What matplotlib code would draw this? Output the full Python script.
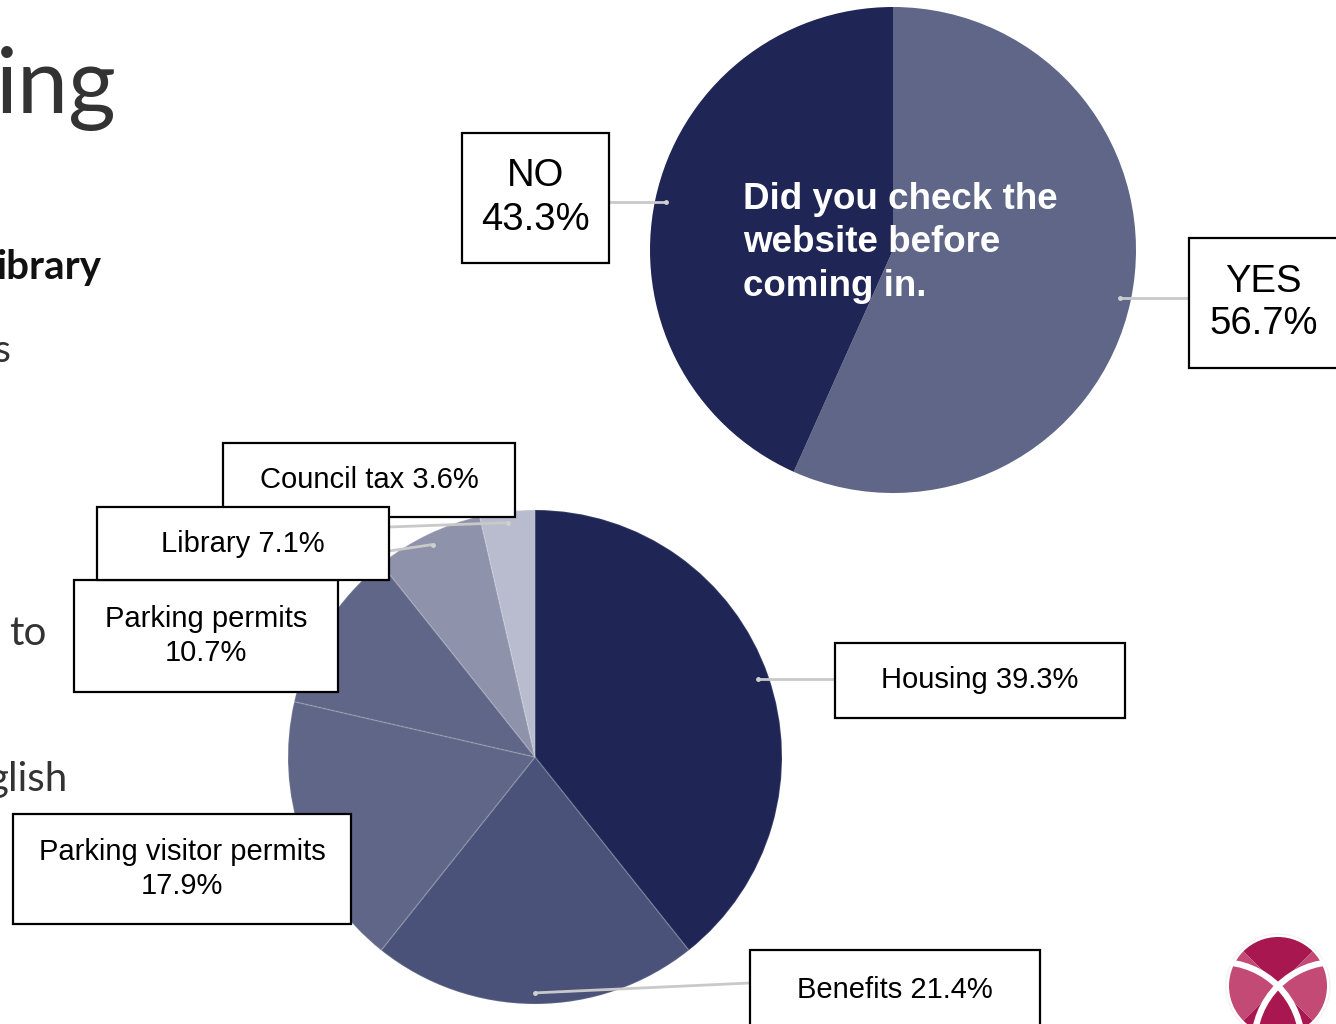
import matplotlib
matplotlib.use("Agg")
import matplotlib.pyplot as plt
import numpy as np
from matplotlib.patches import Rectangle, Circle, Wedge, Arc

# ---------------- data ----------------
q_labels = ["YES", "NO"]
q_values = [56.7, 43.3]
q_colors = ["#5f6687", "#1f2555"]
q_title = "Did you check the\nwebsite before\ncoming in."

s_labels = ["Housing", "Benefits", "Parking visitor permits", "Parking permits", "Library", "Council tax"]
s_values = [39.3, 21.4, 17.9, 10.7, 7.1, 3.6]
s_colors = ["#1f2555", "#4a5279", "#5f6687", "#5f6687", "#8e92aa", "#b9bcce"]
s_label_text = ["Housing 39.3%", "Benefits 21.4%", "Parking visitor permits\n17.9%",
                "Parking permits\n10.7%", "Library 7.1%", "Council tax 3.6%"]
q_label_text = ["YES\n56.7%", "NO\n43.3%"]

W, H = 1336, 1024
def Y(y):
    return H - y

fig = plt.figure(figsize=(W / 100, H / 100), dpi=100)
fig.patch.set_facecolor("white")
ax = fig.add_axes([0, 0, 1, 1])

# ---------------- background slide fragments ----------------
lato = ["Lato", "DejaVu Sans"]
ax.text(-4, Y(113), "ing", fontsize=66, color="#333333", family=lato, ha="left", va="baseline")
ax.text(-4, Y(279), "ibrary", fontsize=29, color="#111111", family=lato, weight="bold", ha="left", va="baseline")
ax.text(-6, Y(362), "s", fontsize=28, color="#333333", family=lato, ha="left", va="baseline")
ax.text(9, Y(645), "to", fontsize=29, color="#333333", family=lato, ha="left", va="baseline")
ax.text(-12, Y(791), "glish", fontsize=29, color="#333333", family=lato, ha="left", va="baseline")

# ---------------- top pie ----------------
qc = (893, Y(250)); qr = 243
wq, _ = ax.pie(q_values, colors=q_colors, startangle=90, counterclock=False,
               center=qc, radius=qr, wedgeprops=dict(linewidth=0))
ax.text(743, Y(243), q_title, color="white", fontsize=26.5, weight="bold",
        family=["Liberation Sans", "DejaVu Sans"], ha="left", va="center",
        linespacing=1.33, zorder=5)

# ---------------- bottom pie ----------------
sc = (535, Y(757)); sr = 247
ws, _ = ax.pie(s_values, colors=s_colors, startangle=90, counterclock=False,
               center=sc, radius=sr,
               wedgeprops=dict(linewidth=1.2, edgecolor=(1, 1, 1, 0.12)))

def mid_point(wedge, center, r, frac=0.955):
    ang = np.deg2rad((wedge.theta1 + wedge.theta2) / 2)
    return center[0] + r * frac * np.cos(ang), center[1] + r * frac * np.sin(ang)

arial = ["Liberation Sans", "DejaVu Sans"]
lead_c = "#c9c9c9"

def label_box(x0, y0, x1, y1, text, size, anchor_pt, end_pt, ls):
    ax.plot([anchor_pt[0], end_pt[0]], [anchor_pt[1], end_pt[1]], color=lead_c, lw=2, zorder=3,
            solid_capstyle="butt")
    ax.plot([anchor_pt[0]], [anchor_pt[1]], marker="o", ms=2.5, color="#d0d0d0", zorder=3)
    ax.add_patch(Rectangle((x0, Y(y1)), x1 - x0, y1 - y0, facecolor="white",
                           edgecolor="black", lw=1.6, zorder=6))
    ax.text((x0 + x1) / 2, Y((y0 + y1) / 2), text, fontsize=size, family=arial,
            ha="center", va="center", color="black", linespacing=ls, zorder=7)

# top pie labels
p_yes = mid_point(wq[0], qc, qr)
p_no = mid_point(wq[1], qc, qr)
label_box(1189, 238, 1338, 368, q_label_text[0], 27.5, p_yes, (1189, p_yes[1]), 1.25)
label_box(462, 133, 609, 263, q_label_text[1], 27.5, p_no, (609, p_no[1]), 1.25)

# bottom pie labels
boxes = [
    (835, 643, 1125, 718),   # Housing
    (750, 950, 1040, 1030),  # Benefits
    (13, 814, 351, 924),     # Parking visitor permits
    (74, 580, 338, 692),     # Parking permits
    (97, 507, 389, 580),     # Library
    (223, 443, 515, 517),    # Council tax
]
ends = [
    lambda p: (835, p[1]),
    lambda p: (750, Y(983)),
    lambda p: (351, p[1]),
    lambda p: (338, p[1]),
    lambda p: (389, Y(551)),
    lambda p: (389, Y(527)),
]
order = [0, 1, 2, 3, 5, 4]
for i in order:
    p = mid_point(ws[i], sc, sr)
    x0, y0, x1, y1 = boxes[i]
    label_box(x0, y0, x1, y1, s_label_text[i], 21, p, ends[i](p), 1.3)

# ---------------- logo ----------------
lc = (1278, Y(986)); lr = 49
ax.add_patch(Circle(lc, lr + 3, facecolor="white", edgecolor="#f3f3f3", lw=1, zorder=8))
for k, col in enumerate(["#a8174f", "#c24a74", "#a8174f", "#c24a74"]):
    a0 = 45 + 90 * k
    ax.add_patch(Wedge(lc, lr, a0, a0 + 90, facecolor=col, edgecolor="none", zorder=9))
ax.add_patch(Arc((lc[0] - 58, lc[1] - 58), 164, 164, theta1=0, theta2=90, color="white", lw=4.5, zorder=10))
ax.add_patch(Arc((lc[0] + 58, lc[1] - 58), 164, 164, theta1=90, theta2=180, color="white", lw=4.5, zorder=10))

ax.set_xlim(0, W)
ax.set_ylim(0, H)
ax.set_aspect("equal")
ax.axis("off")
fig.savefig("out.png", dpi=100, facecolor="white")
